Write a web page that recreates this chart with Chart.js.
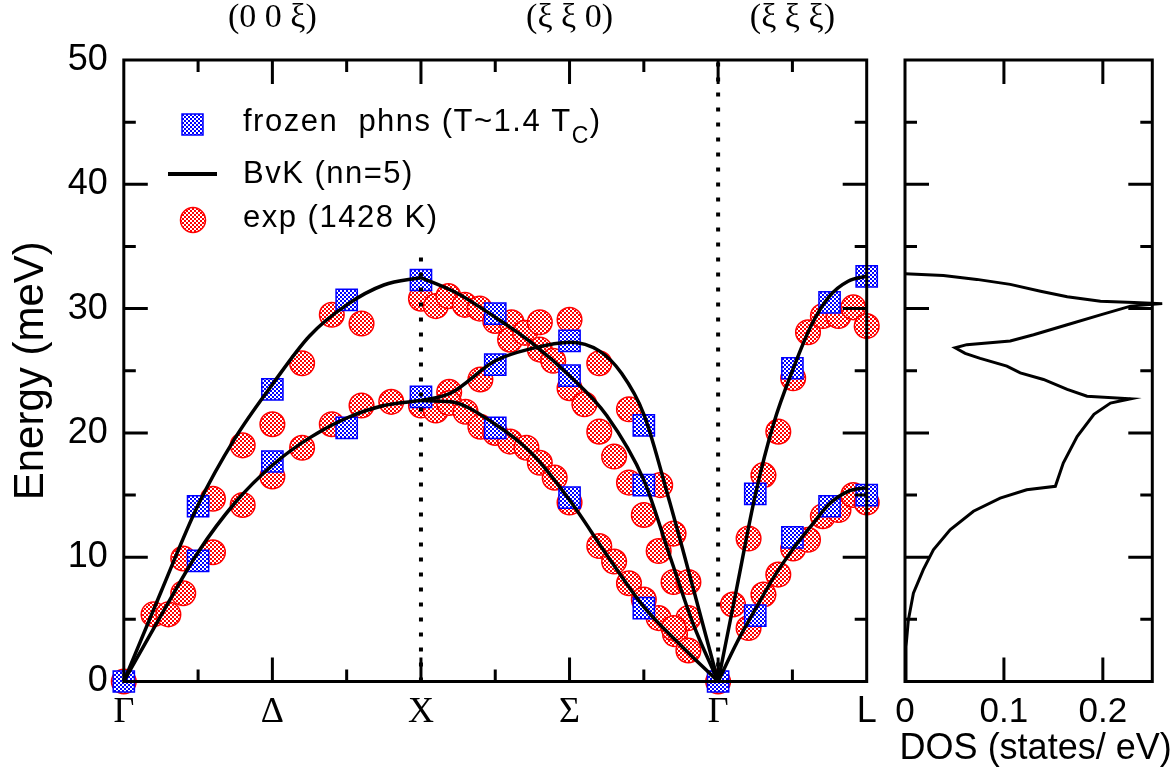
<!DOCTYPE html>
<html><head><meta charset="utf-8">
<script src="https://cdn.jsdelivr.net/npm/chart.js@4.4.1/dist/chart.umd.min.js"></script>
<style>
html,body{margin:0;padding:0;background:#fff;}
#wrap{position:relative;width:1175px;height:773px;overflow:hidden;background:#fff;}
#c1{position:absolute;left:0;top:0;}
#c2{position:absolute;left:880px;top:0;}
</style></head><body>
<div id="wrap">
<canvas id="c1" width="900" height="773"></canvas>
<canvas id="c2" width="295" height="773"></canvas>
</div>
<script>
// ---------- tick labels ----------
const xTickVals = [0, 2, 4, 6, 8, 10];
const xTickLabels = ['Γ', 'Δ', 'X', 'Σ', 'Γ', 'L'];
const dirTickVals = [2, 6, 9];
const dirTickLabels = ['(0 0 ξ)', '(ξ ξ 0)', '(ξ ξ ξ)'];
const yTickVals = [0, 10, 20, 30, 40, 50];
const dosTickVals = [0, 0.1, 0.2];
const dosTickLabels = ['0', '0.1', '0.2'];
const dosTitle = 'DOS (states/ eV)';

// ---------- frozen phonons (blue squares) ----------
const frozenX = [0, 1, 1, 2, 2, 3, 3, 4, 4,
  5, 5, 5, 6, 6, 6, 7, 7, 7, 8,
  8.5, 8.5, 9, 9, 9.5, 9.5, 10, 10];
const frozenE = [0, 14.1, 9.7, 23.5, 17.7, 30.7, 20.4, 32.3, 22.9,
  29.6, 25.5, 20.4, 27.4, 24.6, 14.8, 20.6, 15.8, 5.9, 0,
  15.1, 5.3, 25.2, 11.6, 30.5, 14.1, 32.6, 15.0];

// ---------- experiment 1428 K (red circles) ----------
const expX = [0, 0.4, 0.6, 0.8, 0.8, 1.2, 1.2, 1.6, 1.6, 2.0, 2.0, 2.4, 2.4, 2.8, 2.8, 3.2, 3.2, 3.6, 4.0, 4.0,
  4.2, 4.37, 4.59, 4.79, 5.0, 5.22, 5.2, 5.4, 5.6, 5.6, 5.78, 6.0, 6.0, 6.2, 6.4, 6.4, 6.6, 6.8, 6.8, 7.22, 7.0, 7.4, 7.2, 7.4, 7.6, 7.6, 7.42, 7.6,
  4.2, 4.38, 4.38, 4.6, 4.8, 4.8, 5.0, 5.2, 5.42, 5.6, 5.8, 6.0, 6.4, 6.6, 6.8, 7.0, 7.2, 7.4,
  8, 8.2, 8.41, 8.41, 8.61, 8.61, 8.81, 8.81, 9.01, 9.01, 9.21, 9.21, 9.41, 9.41, 9.62, 9.62, 9.82, 9.82, 10, 10];
const expE = [0, 5.4, 5.4, 7.1, 9.9, 14.7, 10.4, 14.2, 19.0, 20.7, 16.5, 25.6, 18.8, 29.5, 20.7, 28.8, 22.2, 22.5, 30.8, 22.2,
  30.2, 31.0, 30.3, 30.0, 29.0, 28.9, 27.5, 28.05, 28.9, 26.7, 25.8, 29.1, 23.6, 22.3, 25.6, 20.1, 18.1, 21.9, 16.0, 15.8, 13.4, 11.9, 10.5, 8.0, 8.0, 5.1, 3.8, 2.5,
  21.8, 23.3, 22.4, 21.7, 20.5, 24.3, 20.0, 19.3, 18.8, 17.6, 16.4, 14.4, 10.9, 9.65, 7.9, 6.6, 5.1, 4.3,
  0, 6.2, 4.3, 11.5, 7.0, 16.6, 8.6, 20.1, 24.4, 10.7, 28.1, 11.4, 29.4, 13.3, 29.4, 13.8, 30.1, 15.0, 28.6, 14.4];

// ---------- BvK (nn=5) branches ----------
const bvkGXx = [0, 0.5, 1, 1.5, 2, 2.5, 3, 3.5, 4];
const bvkGXup = [0, 7.2, 14.2, 19.6, 23.9, 27.8, 30.3, 31.9, 32.5];
const bvkGXlo = [0, 5.3, 10.4, 14.4, 17.4, 19.6, 21.2, 22.2, 22.6];
const bvkXGax = [4, 4.5, 5, 5.5, 6, 6.5, 7, 7.35, 7.66, 8];
const bvkXGa = [32.5, 31.2, 29.3, 27.2, 24.6, 21.4, 16.2, 10.1, 4.7, 0];
const bvkXGbx = [4, 4.4, 5, 5.5, 6, 6.4, 6.7, 7, 7.35, 7.66, 8];
const bvkXGb = [22.6, 23.2, 25.8, 26.8, 27.3, 26.6, 24.8, 21.5, 14.4, 7.6, 0];
const bvkXGcx = [4, 4.4, 5, 5.5, 6, 6.5, 7, 7.5, 8];
const bvkXGc = [22.6, 22.5, 20.7, 18.3, 14.6, 10.2, 6.0, 2.9, 0];
const bvkGLx = [8, 8.25, 8.5, 8.75, 9, 9.25, 9.5, 9.75, 10];
const bvkGLup = [0, 7.5, 15.0, 20.8, 25.0, 28.6, 31.0, 32.2, 32.6];
const bvkGLlo = [0, 3.1, 5.8, 8.4, 10.6, 12.5, 14.3, 15.3, 15.6];

// ---------- vertical dotted guides ----------
const guideX = [4, 8];
const guideTop = [35, 50];

// ---------- DOS ----------
const dosVal = [0, 0.001, 0.0034, 0.0085, 0.0185, 0.0287, 0.0456, 0.0692, 0.0962, 0.123, 0.152, 0.160, 0.174, 0.191, 0.2077, 0.228,
  0.184, 0.164, 0.140, 0.1165, 0.103, 0.076, 0.0608, 0.0507, 0.0625, 0.1064, 0.130, 0.164, 0.1976, 0.228, 0.260,
  0.2314, 0.1976, 0.164, 0.137, 0.1064, 0.0726, 0.0388, 0];
const dosE = [0, 2.8, 4.96, 7.1, 9.0, 10.6, 12.2, 13.7, 14.76, 15.43, 15.7, 17.58, 19.7, 21.5, 22.4, 22.74,
  22.95, 23.5, 24.3, 24.83, 25.37, 26.0, 26.4, 26.85, 27.1, 27.4, 27.9, 28.7, 29.5, 30.2, 30.4,
  30.5, 30.6, 30.96, 31.4, 31.95, 32.35, 32.67, 32.8];

// ---------- helpers ----------
function pts(xs, ys) { return xs.map((x, i) => ({x: x, y: ys[i]})); }
function makePattern(color) {
  const c = document.createElement('canvas'); c.width = 4; c.height = 4;
  const g = c.getContext('2d');
  g.fillStyle = '#ffffff'; g.fillRect(0, 0, 4, 4);
  g.fillStyle = color; g.fillRect(0, 0, 2, 2); g.fillRect(2, 2, 2, 2);
  return g.createPattern(c, 'repeat');
}
const bluePat = makePattern('#0000ff');
const redPat = makePattern('#ff0000');

const frameTicks = {
  id: 'frameTicks',
  afterDatasetsDraw(chart, args, o) {
    const {ctx, chartArea: a, scales} = chart;
    const xs = scales.x, ys = scales.y;
    ctx.save();
    ctx.strokeStyle = '#000'; ctx.lineWidth = 3; ctx.lineCap = 'butt';
    ctx.beginPath();
    const xt = (vals, len) => vals.forEach(v => {
      const p = xs.getPixelForValue(v);
      ctx.moveTo(p, a.bottom); ctx.lineTo(p, a.bottom - len);
      ctx.moveTo(p, a.top); ctx.lineTo(p, a.top + len);
    });
    const yt = (vals, len) => vals.forEach(v => {
      const p = ys.getPixelForValue(v);
      ctx.moveTo(a.left, p); ctx.lineTo(a.left + len, p);
      ctx.moveTo(a.right, p); ctx.lineTo(a.right - len, p);
    });
    xt(o.xMajor, 24); xt(o.xMinor, 12);
    yt(o.yMajor, 24); yt(o.yMinor, 12);
    ctx.stroke();
    ctx.strokeRect(a.left, a.top, a.right - a.left, a.bottom - a.top);
    if (o.title) {
      ctx.fillStyle = '#000'; ctx.font = '36px "Liberation Sans"';
      ctx.textAlign = 'center'; ctx.textBaseline = 'middle';
      ctx.fillText(o.title, (a.left + a.right) / 2 + 7, 749);
    }
    ctx.restore();
  }
};

const legendPlugin = {
  id: 'legendBox',
  afterDraw(chart) {
    const ctx = chart.ctx;
    ctx.save();
    ctx.fillStyle = bluePat; ctx.strokeStyle = '#0000ff'; ctx.lineWidth = 1.5;
    ctx.fillRect(182, 114, 21, 21); ctx.strokeRect(182, 114, 21, 21);
    ctx.strokeStyle = '#000'; ctx.lineWidth = 4;
    ctx.beginPath(); ctx.moveTo(168, 174); ctx.lineTo(217, 174); ctx.stroke();
    ctx.beginPath(); ctx.arc(193, 220, 12.5, 0, Math.PI * 2);
    ctx.fillStyle = redPat; ctx.fill(); ctx.strokeStyle = '#ff0000'; ctx.lineWidth = 1.5; ctx.stroke();
    ctx.fillStyle = '#000'; ctx.textBaseline = 'alphabetic'; ctx.textAlign = 'left';
    try { ctx.letterSpacing = '1.5px'; } catch (e) {}
    ctx.font = '31px "Liberation Sans"';
    const t1 = 'frozen  phns (T~1.4 T';
    ctx.fillText(t1, 243, 131);
    const w1 = ctx.measureText(t1).width;
    ctx.font = '23px "Liberation Sans"';
    ctx.fillText('C', 243 + w1, 143);
    const w2 = ctx.measureText('C').width;
    ctx.font = '31px "Liberation Sans"';
    ctx.fillText(')', 243 + w1 + w2, 131);
    ctx.fillText('BvK (nn=5)', 243, 183);
    ctx.fillText('exp (1428 K)', 243, 227);
    ctx.restore();
  }
};

const lineDS = (xs, ys) => ({data: pts(xs, ys), showLine: true, borderColor: '#000', borderWidth: 3.5,
  pointRadius: 0, cubicInterpolationMode: 'monotone', order: 0, clip: false});
const guideDS = guideX.map((gx, i) => ({data: [{x: gx, y: 0}, {x: gx, y: guideTop[i]}], showLine: true,
  borderColor: '#000', borderWidth: 4, borderDash: [4, 11], pointRadius: 0, order: 1}));

new Chart(document.getElementById('c1'), {
  type: 'scatter',
  data: {datasets: [
    lineDS(bvkGXx, bvkGXup), lineDS(bvkGXx, bvkGXlo),
    lineDS(bvkXGax, bvkXGa), lineDS(bvkXGbx, bvkXGb), lineDS(bvkXGcx, bvkXGc),
    lineDS(bvkGLx, bvkGLup), lineDS(bvkGLx, bvkGLlo),
    ...guideDS,
    {data: pts(frozenX, frozenE), pointStyle: 'rect', pointRadius: 15, backgroundColor: bluePat,
      borderColor: '#0000ff', borderWidth: 1.5, showLine: false, order: 2, clip: false},
    {data: pts(expX, expE), pointStyle: 'circle', pointRadius: 12.3, backgroundColor: redPat,
      borderColor: '#ff0000', borderWidth: 1.5, showLine: false, order: 3, clip: false}
  ]},
  options: {
    responsive: false, animation: false, devicePixelRatio: 1,
    layout: {padding: {left: 0, top: 0, right: 33.3, bottom: 0}},
    plugins: {legend: {display: false}, tooltip: {enabled: false},
      frameTicks: {xMajor: [2, 4, 6, 8], xMinor: [1, 3, 5, 7, 9], yMajor: [10, 20, 30, 40], yMinor: [5, 15, 25, 35, 45]}},
    scales: {
      x: {type: 'linear', position: 'bottom', min: 0, max: 10,
        afterBuildTicks: s => { s.ticks = xTickVals.map(v => ({value: v})); },
        afterFit: s => { s.height = 773 - 681.5; },
        grid: {display: false}, border: {display: false},
        ticks: {autoSkip: false, maxRotation: 0, padding: 1, color: '#000',
          callback: (v, i) => xTickLabels[i],
          font: c => ({family: c.index === 5 ? 'Liberation Sans' : 'Liberation Serif', size: 36})}},
      x2: {type: 'linear', position: 'top', min: 0, max: 10,
        afterBuildTicks: s => { s.ticks = dirTickVals.map(v => ({value: v})); },
        afterFit: s => { s.height = 60; },
        grid: {display: false}, border: {display: false},
        ticks: {autoSkip: false, maxRotation: 0, padding: 14, color: '#000',
          callback: (v, i) => dirTickLabels[i],
          font: {family: 'Liberation Serif', size: 34}}},
      y: {type: 'linear', min: 0, max: 50,
        afterBuildTicks: s => { s.ticks = yTickVals.map(v => ({value: v})); },
        afterFit: s => { s.width = 123.8; },
        grid: {display: false}, border: {display: false},
        ticks: {padding: 8, color: '#000', font: {family: 'Liberation Sans', size: 36}},
        title: {display: true, text: 'Energy (meV)', color: '#000', padding: {top: 6, bottom: 0},
          font: {family: 'Liberation Sans', size: 42}}}
    }
  },
  plugins: [frameTicks, legendPlugin]
});

new Chart(document.getElementById('c2'), {
  type: 'scatter',
  data: {datasets: [
    {data: pts(dosVal, dosE), showLine: true, borderColor: '#000', borderWidth: 3, pointRadius: 0,
      tension: 0, clip: false}
  ]},
  options: {
    responsive: false, animation: false, devicePixelRatio: 1,
    layout: {padding: {left: 0, top: 60, right: 22.7, bottom: 0}},
    plugins: {legend: {display: false}, tooltip: {enabled: false},
      frameTicks: {xMajor: [0.1, 0.2], xMinor: [], yMajor: [10, 20, 30, 40], yMinor: [5, 15, 25, 35, 45], title: dosTitle}},
    scales: {
      x: {type: 'linear', position: 'bottom', min: 0, max: 0.25,
        afterBuildTicks: s => { s.ticks = dosTickVals.map(v => ({value: v})); },
        afterFit: s => { s.height = 773 - 681.5; },
        grid: {display: false}, border: {display: false},
        ticks: {autoSkip: false, maxRotation: 0, padding: 2, color: '#000',
          callback: (v, i) => dosTickLabels[i],
          font: {family: 'Liberation Sans', size: 35}}},
      y: {type: 'linear', min: 0, max: 50,
        afterBuildTicks: s => { s.ticks = yTickVals.map(v => ({value: v})); },
        afterFit: s => { s.width = 25; },
        grid: {display: false}, border: {display: false},
        ticks: {display: false}}
    }
  },
  plugins: [frameTicks]
});
</script>
</body></html>
